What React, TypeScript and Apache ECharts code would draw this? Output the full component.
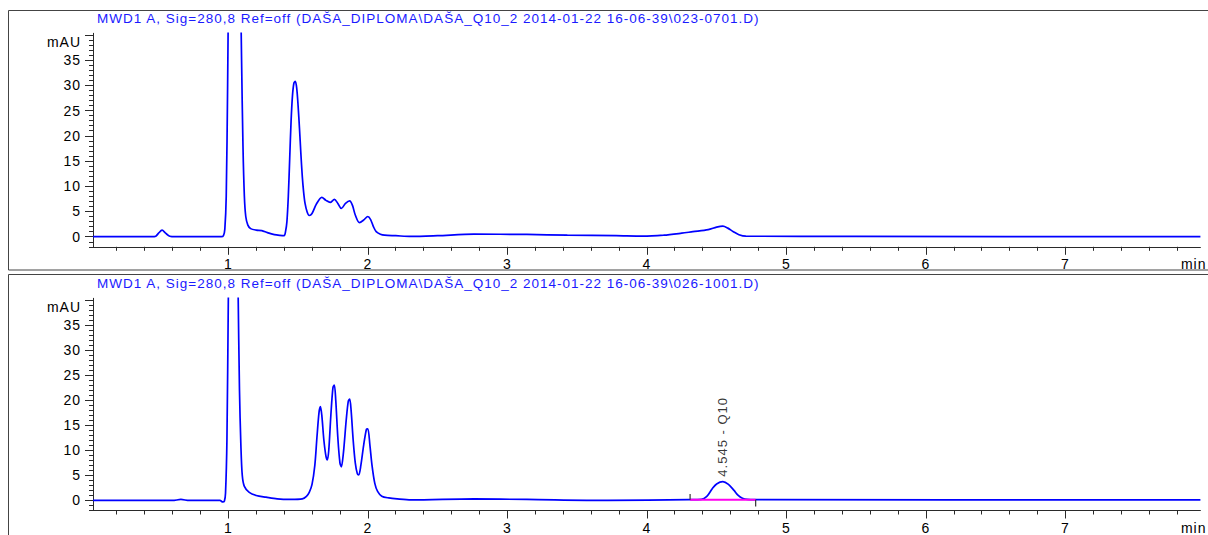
import React, { useEffect, useRef } from "react";
import * as echarts from "echarts";

// ---------- data ----------
const topTitle =
  "MWD1 A, Sig=280,8 Ref=off (DAŠA_DIPLOMA\\DAŠA_Q10_2 2014-01-22 16-06-39\\023-0701.D)";
const bottomTitle =
  "MWD1 A, Sig=280,8 Ref=off (DAŠA_DIPLOMA\\DAŠA_Q10_2 2014-01-22 16-06-39\\026-1001.D)";

// [time (min), signal (mAU)]
const topTrace: [number, number][] = [
  [0.03, 0], [0.45, 0], [0.48, 0.1], [0.5, 0.7], [0.525, 1.3], [0.55, 0.7], [0.58, 0.1], [0.62, 0],
  [0.95, 0], [0.965, 0.2], [0.975, 1.5], [0.985, 8], [0.995, 30], [1.005, 60], [1.02, 90],
  [1.045, 105], [1.07, 85], [1.085, 55], [1.095, 35], [1.105, 18], [1.115, 8], [1.125, 4],
  [1.14, 2.3], [1.16, 1.6], [1.2, 1.3], [1.24, 1.2], [1.28, 0.8], [1.33, 0.4], [1.37, 0.25],
  [1.4, 0.2], [1.41, 1.0], [1.42, 3], [1.43, 8], [1.44, 15.5], [1.45, 23], [1.46, 28],
  [1.47, 30.4], [1.48, 30.8], [1.49, 29.5], [1.5, 26], [1.51, 21.5], [1.52, 16.5], [1.53, 12],
  [1.54, 8.8], [1.55, 6.6], [1.565, 4.9], [1.58, 4.2], [1.6, 4.6], [1.63, 6.4], [1.67, 7.8],
  [1.7, 7.2], [1.73, 6.8], [1.76, 7.4], [1.785, 6.6], [1.81, 5.6], [1.84, 6.6], [1.87, 7.1],
  [1.89, 6.2], [1.91, 4.3], [1.94, 2.8], [1.97, 3.3], [2.0, 4.0], [2.02, 3.4], [2.04, 2.0],
  [2.06, 1.0], [2.09, 0.5], [2.12, 0.3], [2.2, 0.2], [2.31, 0.05], [2.5, 0.2], [2.76, 0.5],
  [3.14, 0.45], [3.43, 0.3], [3.78, 0.2], [3.97, 0.1], [4.12, 0.3], [4.25, 0.7], [4.33, 1.0],
  [4.44, 1.4], [4.5, 1.9], [4.545, 2.1], [4.58, 1.7], [4.62, 1.0], [4.66, 0.4], [4.71, 0.1],
  [5.5, 0.05], [7.968, 0],
];

const bottomTrace: [number, number][] = [
  [0.03, 0], [0.6, 0], [0.66, 0.2], [0.72, 0], [0.94, 0], [0.96, -0.3], [0.972, -0.1],
  [0.98, 1.5], [0.99, 12], [1.0, 40], [1.015, 80], [1.035, 100], [1.05, 85], [1.06, 62],
  [1.07, 42], [1.08, 22], [1.09, 11], [1.1, 5], [1.115, 2.8], [1.15, 1.6], [1.2, 1.0],
  [1.27, 0.65], [1.35, 0.3], [1.45, 0.2], [1.53, 0.3], [1.56, 0.8], [1.58, 1.6], [1.6, 3.2],
  [1.62, 7], [1.635, 12.5], [1.65, 17.5], [1.66, 18.7], [1.67, 17], [1.685, 12], [1.7, 8.8],
  [1.71, 8.1], [1.72, 10], [1.735, 17], [1.75, 22.5], [1.76, 23], [1.77, 20], [1.785, 12.5],
  [1.8, 7.5], [1.81, 6.7], [1.825, 9.5], [1.845, 16], [1.86, 19.8], [1.87, 20.2], [1.88, 18],
  [1.895, 12], [1.91, 7.5], [1.925, 5.3], [1.935, 5.1], [1.95, 7], [1.97, 11], [1.99, 14.2],
  [2.0, 14.3], [2.015, 11], [2.03, 7], [2.05, 3.4], [2.07, 1.8], [2.1, 0.85], [2.15, 0.5],
  [2.21, 0.3], [2.31, 0.1], [2.76, 0.3], [3.14, 0.2], [3.72, 0.0], [4.3, 0.15], [4.39, 0.2],
  [4.43, 0.8], [4.47, 2.4], [4.5, 3.3], [4.545, 3.75], [4.585, 3.2], [4.625, 2.0], [4.655, 1.0],
  [4.685, 0.45], [4.72, 0.2], [4.78, 0.15], [7.968, 0.1],
];

// integrated peak in the lower run
const peakLabel = "4.545 - Q10";
const peakApex: [number, number] = [4.545, 3.75];
const peakBaseline: [number, number][] = [[4.31, 0.15], [4.78, 0.15]];
const peakStartTick: [number, number][] = [[4.31, 0.15], [4.31, 1.3]];
const peakEndTick: [number, number][] = [[4.78, 0.15], [4.78, -1.2]];

// axes
const xMin = 0.03;
const xMax = 7.968;
const yMin = -2;
const yMax = 40.3;
const xMajorTicks = [1, 2, 3, 4, 5, 6, 7];
const xLabelValues = [1, 2, 3, 4, 5, 6, 7, 7.92];
const xUnitAt = 7.92;
const xMinorTicks = [
  0.2, 0.4, 0.6, 0.8, 1.2, 1.4, 1.6, 1.8, 2.2, 2.4, 2.6, 2.8, 3.2, 3.4, 3.6, 3.8,
  4.2, 4.4, 4.6, 4.8, 5.2, 5.4, 5.6, 5.8, 6.2, 6.4, 6.6, 6.8, 7.2, 7.4, 7.6, 7.8,
];
const yMajorTicks = [0, 5, 10, 15, 20, 25, 30, 35, 40];
const yLabelValues = [0, 5, 10, 15, 20, 25, 30, 35, 38.6];
const yUnitAt = 38.6;
const yMinorTicks = [
  -2, -1, 0, 1, 2, 3, 4, 5, 6, 7, 8, 9, 10, 11, 12, 13, 14, 15, 16, 17, 18, 19, 20, 21,
  22, 23, 24, 25, 26, 27, 28, 29, 30, 31, 32, 33, 34, 35, 36, 37, 38, 39, 40,
];

const FONT = "'Liberation Sans', Arial, sans-serif";
const AXIS_COLOR = "#2a2a2a";
const TRACE_COLOR = "#0000ff";

function makeAxes(gridIndex: number) {
  const xMain = {
    type: "value",
    gridIndex,
    min: xMin,
    max: xMax,
    position: "bottom",
    axisLine: { show: true, onZero: false, lineStyle: { color: AXIS_COLOR, width: 1 } },
    axisTick: { show: true, customValues: xMajorTicks, length: 8, lineStyle: { color: AXIS_COLOR } },
    axisLabel: {
      show: true,
      customValues: xLabelValues,
      formatter: (v: number) => (Math.abs(v - xUnitAt) < 1e-6 ? "min" : String(v)),
      margin: 10.5,
      color: "#000",
      fontSize: 14,
      fontFamily: FONT,
    },
    splitLine: { show: false },
  };
  const xMinor = {
    type: "value",
    gridIndex,
    min: xMin,
    max: xMax,
    position: "bottom",
    axisLine: { show: false, onZero: false },
    axisTick: { show: true, customValues: xMinorTicks, length: 4, lineStyle: { color: AXIS_COLOR } },
    axisLabel: { show: false },
    splitLine: { show: false },
  };
  const yMain = {
    type: "value",
    gridIndex,
    min: yMin,
    max: yMax,
    position: "left",
    axisLine: { show: true, onZero: false, lineStyle: { color: AXIS_COLOR, width: 1 } },
    axisTick: { show: true, customValues: yMajorTicks, length: 8, lineStyle: { color: AXIS_COLOR } },
    axisLabel: {
      show: true,
      customValues: yLabelValues,
      formatter: (v: number) => (Math.abs(v - yUnitAt) < 1e-6 ? "mAU" : String(v)),
      margin: 12,
      color: "#000",
      fontSize: 14,
      fontFamily: FONT,
    },
    splitLine: { show: false },
  };
  const yMinor = {
    type: "value",
    gridIndex,
    min: yMin,
    max: yMax,
    position: "left",
    axisLine: { show: false, onZero: false },
    axisTick: { show: true, customValues: yMinorTicks, length: 4, lineStyle: { color: AXIS_COLOR } },
    axisLabel: { show: false },
    splitLine: { show: false },
  };
  return { x: [xMain, xMinor], y: [yMain, yMinor] };
}

export default function App() {
  const ref = useRef<HTMLDivElement>(null);

  useEffect(() => {
    if (!ref.current) return;
    const chart = echarts.init(ref.current, undefined, { renderer: "svg" });
    const a0 = makeAxes(0);
    const a1 = makeAxes(1);

    const traceStyle = { color: TRACE_COLOR, width: 1.7 };
    const titleStyle = { color: "#1a1aff", fontSize: 13.5, fontWeight: "normal", fontFamily: FONT };

    chart.setOption({
      animation: false,
      backgroundColor: "#fff",
      title: [
        { text: topTitle, left: 97, top: 11, padding: 0, textStyle: titleStyle },
        { text: bottomTitle, left: 97, top: 276, padding: 0, textStyle: titleStyle },
      ],
      grid: [
        { left: 93, top: 33.3, width: 1115, height: 213.5, containLabel: false },
        { left: 93, top: 298.3, width: 1115, height: 216, containLabel: false },
      ],
      xAxis: [...a0.x, ...a1.x],
      yAxis: [...a0.y, ...a1.y],
      graphic: [
        {
          type: "rect",
          silent: true,
          shape: { x: 8.5, y: 10.5, width: 1220, height: 259.5 },
          style: { fill: "none", stroke: "#444", lineWidth: 1 },
        },
        {
          type: "rect",
          silent: true,
          shape: { x: 8.5, y: 274.5, width: 1220, height: 280 },
          style: { fill: "none", stroke: "#444", lineWidth: 1 },
        },
      ],
      series: [
        {
          type: "line",
          xAxisIndex: 0,
          yAxisIndex: 0,
          data: topTrace,
          showSymbol: false,
          smooth: 0.3,
          clip: true,
          lineStyle: traceStyle,
        },
        {
          type: "line",
          xAxisIndex: 2,
          yAxisIndex: 2,
          data: bottomTrace,
          showSymbol: false,
          smooth: 0.3,
          clip: true,
          lineStyle: traceStyle,
        },
        {
          type: "line",
          xAxisIndex: 2,
          yAxisIndex: 2,
          data: peakBaseline,
          showSymbol: false,
          lineStyle: { color: "#ff00ee", width: 2 },
        },
        {
          type: "line",
          xAxisIndex: 2,
          yAxisIndex: 2,
          data: peakStartTick,
          showSymbol: false,
          lineStyle: { color: "#333", width: 1.2 },
        },
        {
          type: "line",
          xAxisIndex: 2,
          yAxisIndex: 2,
          data: peakEndTick,
          showSymbol: false,
          lineStyle: { color: "#333", width: 1.2 },
        },
        {
          type: "scatter",
          xAxisIndex: 2,
          yAxisIndex: 2,
          data: [peakApex],
          symbolSize: 0,
          label: {
            show: true,
            formatter: peakLabel,
            position: "top",
            distance: 5,
            rotate: 90,
            align: "left",
            verticalAlign: "middle",
            color: "#000",
            fontSize: 13,
            fontFamily: FONT,
          },
        },
      ],
    });
    return () => chart.dispose();
  }, []);

  return (
    <div
      ref={ref}
      style={{
        position: "absolute",
        left: 0,
        top: 0,
        width: 1208,
        height: 535,
        overflow: "hidden",
        letterSpacing: "1px",
      }}
    />
  );
}
